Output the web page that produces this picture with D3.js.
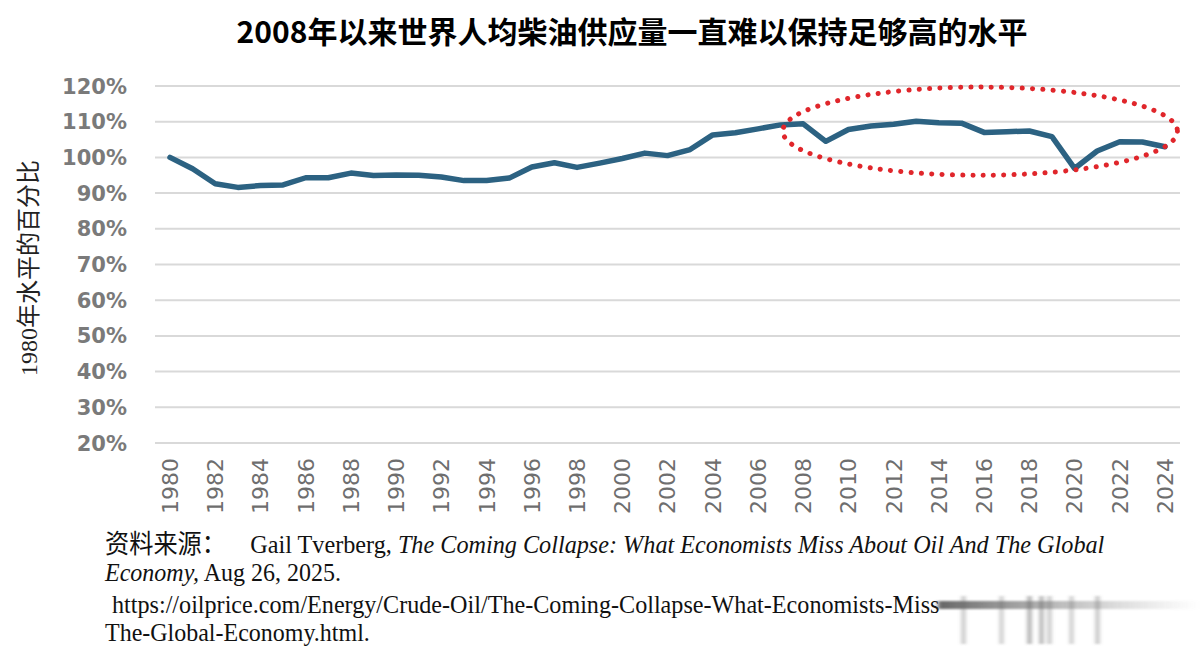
<!DOCTYPE html>
<html lang="zh">
<head>
	<meta charset="UTF-8">
	<title>世界人均柴油供应量</title>
	<script type="text/javascript" src="https://cdn.jsdelivr.net/npm/d3@7/dist/d3.min.js"></script>
	<style>
		body { margin: 0; background: #fff; }
		.grid line { stroke: #d9d9d9; stroke-width: 2px; }
		.tick-label { font-family: "DejaVu Sans", sans-serif; fill: #7a7a7a; font-weight: bold; }
		.series { fill: none; stroke: #2c6282; stroke-width: 5.5px; stroke-linejoin: round; stroke-linecap: round; }
		.footer { font-family: "Liberation Serif", "Noto Sans CJK SC", serif; fill: #111; }
	</style>
</head>
<body>
<script type="text/javascript">
	// 年份
	var years = [1980, 1981, 1982, 1983, 1984, 1985, 1986, 1987, 1988, 1989,
		1990, 1991, 1992, 1993, 1994, 1995, 1996, 1997, 1998, 1999,
		2000, 2001, 2002, 2003, 2004, 2005, 2006, 2007, 2008, 2009,
		2010, 2011, 2012, 2013, 2014, 2015, 2016, 2017, 2018, 2019,
		2020, 2021, 2022, 2023, 2024];

	// 人均柴油供应量，1980年 = 100%
	var values = [100.0, 96.8, 92.6, 91.6, 92.1, 92.3, 94.3, 94.3, 95.6, 94.9,
		95.1, 95.0, 94.5, 93.5, 93.5, 94.2, 97.3, 98.5, 97.2, 98.4,
		99.7, 101.2, 100.5, 102.2, 106.3, 106.9, 108.0, 109.1, 109.4, 104.5,
		107.8, 108.8, 109.3, 110.1, 109.7, 109.6, 107.0, 107.2, 107.4, 105.8,
		96.9, 101.8, 104.4, 104.3, 103.0];

	var yTicks = [20, 30, 40, 50, 60, 70, 80, 90, 100, 110, 120];
	var xTicks = [1980, 1982, 1984, 1986, 1988, 1990, 1992, 1994, 1996, 1998, 2000,
		2002, 2004, 2006, 2008, 2010, 2012, 2014, 2016, 2018, 2020, 2022, 2024];

	// 红色虚线圈出的区域（年份、百分比）
	var circleYears = [2007.1, 2024.55];
	var circleRange = [95.0, 119.7];

	var W = 1200, H = 663;
	var svg = d3.select('body').append('svg')
		.attr('width', W).attr('height', H);

	var x = d3.scaleLinear().domain([1980, 2024]).range([170, 1165]);
	var y = d3.scaleLinear().domain([20, 120]).range([443, 86]);

	// title
	svg.append('text')
		.attr('x', 632).attr('y', 43)
		.attr('text-anchor', 'middle')
		.style('font-family', '"Noto Sans CJK SC", sans-serif')
		.style('font-weight', 'bold')
		.style('font-size', '30px')
		.text('2008年以来世界人均柴油供应量一直难以保持足够高的水平');

	// grid
	svg.append('g').attr('class', 'grid')
		.selectAll('line').data(yTicks).enter().append('line')
		.attr('x1', 155).attr('x2', 1180)
		.attr('y1', function(d){ return y(d); })
		.attr('y2', function(d){ return y(d); });

	// y labels
	svg.append('g').selectAll('text').data(yTicks).enter().append('text')
		.attr('class', 'tick-label')
		.attr('x', 127)
		.attr('y', function(d){ return y(d); })
		.attr('dy', '0.36em')
		.attr('text-anchor', 'end')
		.style('font-size', '21px')
		.text(function(d){ return d + '%'; });

	// x labels
	svg.append('g').selectAll('text').data(xTicks).enter().append('text')
		.attr('class', 'tick-label')
		.attr('transform', function(d){ return 'translate(' + x(d) + ',458) rotate(-90)'; })
		.attr('dy', '0.36em')
		.attr('text-anchor', 'end')
		.style('font-size', '22px')
		.style('font-weight', 'normal')
		.style('fill', '#6e6e6e')
		.text(function(d){ return d; });

	// y title
	svg.append('text')
		.attr('transform', 'translate(28,268) rotate(-90)')
		.attr('text-anchor', 'middle')
		.attr('dy', '0.36em')
		.style('font-family', '"Liberation Serif", "Noto Sans CJK SC", serif')
		.style('font-size', '24px')
		.style('fill', '#222')
		.text('1980年水平的百分比');

	// series
	var line = d3.line()
		.x(function(d, i){ return x(years[i]); })
		.y(function(d){ return y(d); });

	svg.append('path')
		.datum(values)
		.attr('class', 'series')
		.attr('d', line);

	// dotted ellipse
	svg.append('ellipse')
		.attr('cx', (x(circleYears[0]) + x(circleYears[1])) / 2)
		.attr('cy', (y(circleRange[0]) + y(circleRange[1])) / 2)
		.attr('rx', (x(circleYears[1]) - x(circleYears[0])) / 2)
		.attr('ry', (y(circleRange[0]) - y(circleRange[1])) / 2)
		.style('fill', 'none')
		.style('stroke', '#e0262b')
		.style('stroke-width', 5)
		.style('stroke-linecap', 'round')
		.style('stroke-dasharray', '0.1 10.2');

	// footer (source)
	function footerLine(xPos, yPos, width, parts) {
		var g = svg.append('g').attr('transform', 'translate(' + xPos + ',' + yPos + ')');
		var t = g.append('text').attr('class', 'footer').style('font-size', '26px');
		parts.forEach(function(p){
			t.append('tspan')
				.style('font-style', p.italic ? 'italic' : 'normal')
				.style('font-family', p.cjk ? '"Noto Sans CJK SC", serif' : null)
				.style('white-space', 'pre')
				.text(p.text);
		});
		var w = t.node().getComputedTextLength();
		t.attr('transform', 'scale(' + (width / w) + ',1)');
	}

	footerLine(105, 553, 1000, [
		{ text: '资料来源：', cjk: true },
		{ text: '\u00a0\u00a0\u00a0 Gail Tverberg, ' },
		{ text: 'The Coming Collapse: What Economists Miss About Oil And The Global', italic: true }
	]);
	footerLine(105, 581, 236, [
		{ text: 'Economy,', italic: true },
		{ text: ' Aug 26, 2025.' }
	]);
	footerLine(112, 613, 828, [
		{ text: 'https://oilprice.com/Energy/Crude-Oil/The-Coming-Collapse-What-Economists-Miss' }
	]);
	footerLine(105, 641, 265, [
		{ text: 'The-Global-Economy.html.' }
	]);

	// blurred scan artefact after the url
	var defs = svg.append('defs');
	defs.append('filter').attr('id', 'blur')
		.append('feGaussianBlur').attr('stdDeviation', '2 1.2');
	var grad = defs.append('linearGradient').attr('id', 'fade');
	grad.append('stop').attr('offset', '0').attr('stop-color', '#555').attr('stop-opacity', 0.9);
	grad.append('stop').attr('offset', '1').attr('stop-color', '#999').attr('stop-opacity', 0);
	var smear = svg.append('g').style('filter', 'url(#blur)');
	smear.append('rect').attr('x', 938).attr('y', 601).attr('width', 262).attr('height', 8)
		.style('fill', 'url(#fade)');
	[[962, 0.5], [1000, 0.45], [1028, 0.75], [1040, 0.7], [1048, 0.5], [1070, 0.45], [1096, 0.55]].forEach(function(b){
		smear.append('rect').attr('x', b[0]).attr('y', 596).attr('width', 3).attr('height', 48)
			.style('fill', '#666').style('opacity', b[1]);
	});
</script>
</body>
</html>
